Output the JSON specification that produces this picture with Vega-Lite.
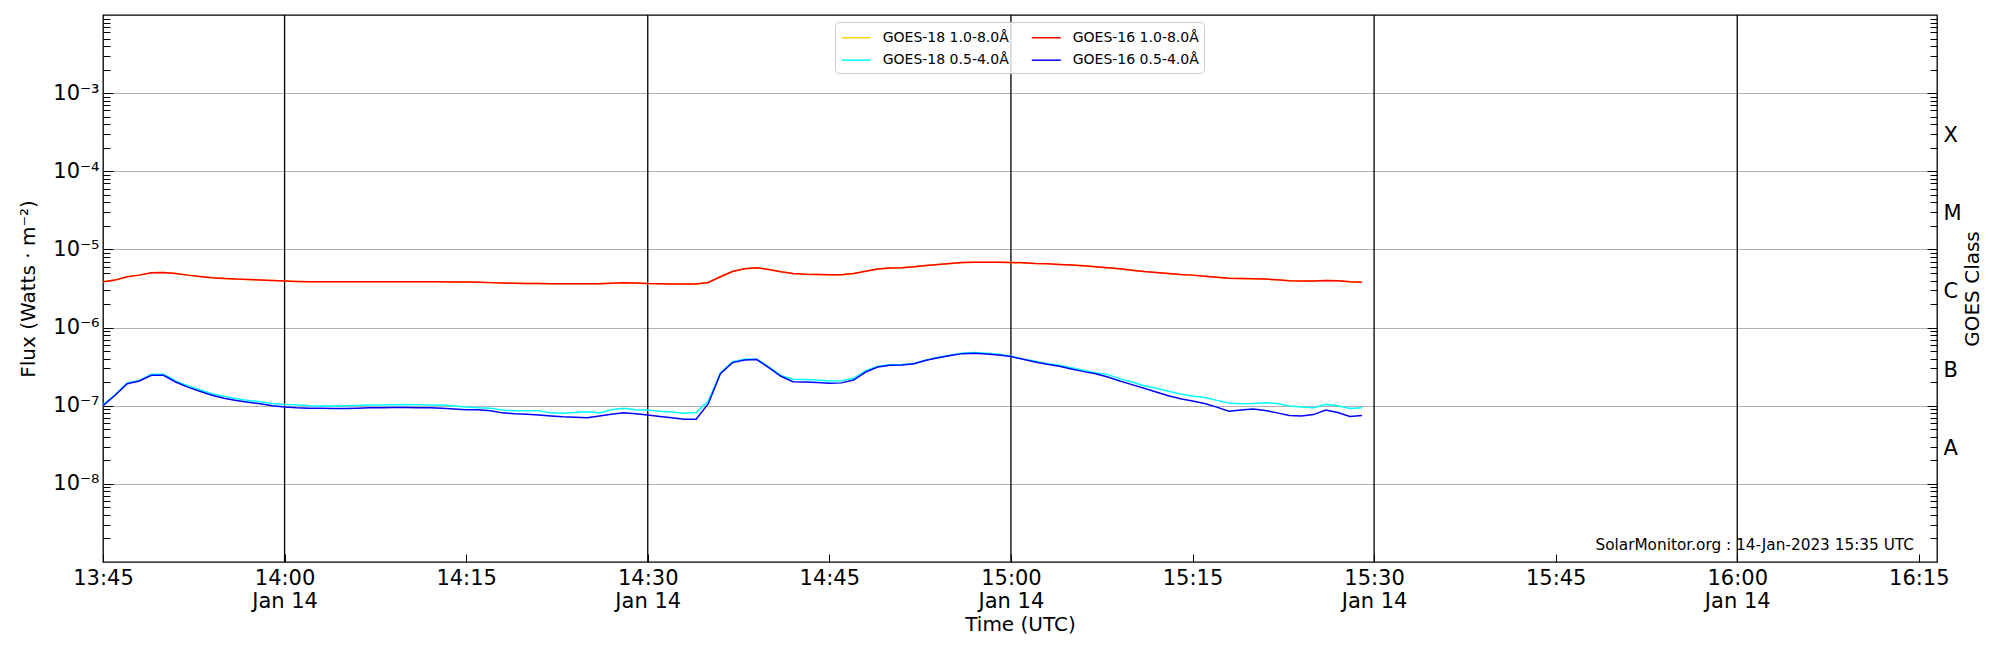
{
  "$schema": "https://vega.github.io/schema/vega-lite/v6.json",
  "width": 1834,
  "height": 547,
  "autosize": {"type": "none"},
  "padding": {"left": 103, "top": 15, "right": 63, "bottom": 88},
  "background": "white",
  "config": {
    "font": "DejaVu Sans",
    "view": {"stroke": "black", "strokeWidth": 1.3},
    "axis": {
      "labelFont": "DejaVu Sans",
      "titleFont": "DejaVu Sans",
      "labelFontSize": 21,
      "titleFontSize": 20,
      "labelColor": "black",
      "titleColor": "black",
      "titleFontWeight": "normal",
      "tickColor": "black",
      "tickWidth": 1,
      "domain": false,
      "grid": false
    }
  },
  "datasets": {
    "goes": [
      {"t": "2023-01-14T13:45:00Z", "g18l": 3.85e-6, "g18s": 1.03e-7, "g16l": 3.85e-6, "g16s": 1.00e-7},
      {"t": "2023-01-14T13:46:00Z", "g18l": 4.05e-6, "g18s": 1.38e-7, "g16l": 4.05e-6, "g16s": 1.36e-7},
      {"t": "2023-01-14T13:47:00Z", "g18l": 4.47e-6, "g18s": 1.95e-7, "g16l": 4.47e-6, "g16s": 1.91e-7},
      {"t": "2023-01-14T13:48:00Z", "g18l": 4.69e-6, "g18s": 2.11e-7, "g16l": 4.69e-6, "g16s": 2.07e-7},
      {"t": "2023-01-14T13:49:00Z", "g18l": 5.02e-6, "g18s": 2.52e-7, "g16l": 5.02e-6, "g16s": 2.45e-7},
      {"t": "2023-01-14T13:50:00Z", "g18l": 5.07e-6, "g18s": 2.52e-7, "g16l": 5.07e-6, "g16s": 2.45e-7},
      {"t": "2023-01-14T13:51:00Z", "g18l": 4.93e-6, "g18s": 2.07e-7, "g16l": 4.93e-6, "g16s": 2.01e-7},
      {"t": "2023-01-14T13:52:00Z", "g18l": 4.69e-6, "g18s": 1.80e-7, "g16l": 4.69e-6, "g16s": 1.73e-7},
      {"t": "2023-01-14T13:53:00Z", "g18l": 4.50e-6, "g18s": 1.60e-7, "g16l": 4.50e-6, "g16s": 1.53e-7},
      {"t": "2023-01-14T13:54:00Z", "g18l": 4.34e-6, "g18s": 1.42e-7, "g16l": 4.34e-6, "g16s": 1.36e-7},
      {"t": "2023-01-14T13:55:00Z", "g18l": 4.25e-6, "g18s": 1.32e-7, "g16l": 4.25e-6, "g16s": 1.25e-7},
      {"t": "2023-01-14T13:56:00Z", "g18l": 4.17e-6, "g18s": 1.23e-7, "g16l": 4.17e-6, "g16s": 1.17e-7},
      {"t": "2023-01-14T13:57:00Z", "g18l": 4.13e-6, "g18s": 1.17e-7, "g16l": 4.13e-6, "g16s": 1.11e-7},
      {"t": "2023-01-14T13:58:00Z", "g18l": 4.05e-6, "g18s": 1.12e-7, "g16l": 4.05e-6, "g16s": 1.06e-7},
      {"t": "2023-01-14T13:59:00Z", "g18l": 4.00e-6, "g18s": 1.07e-7, "g16l": 4.00e-6, "g16s": 1.00e-7},
      {"t": "2023-01-14T14:00:00Z", "g18l": 3.93e-6, "g18s": 1.04e-7, "g16l": 3.93e-6, "g16s": 9.6e-8},
      {"t": "2023-01-14T14:01:00Z", "g18l": 3.89e-6, "g18s": 1.03e-7, "g16l": 3.89e-6, "g16s": 9.4e-8},
      {"t": "2023-01-14T14:02:00Z", "g18l": 3.87e-6, "g18s": 1.00e-7, "g16l": 3.87e-6, "g16s": 9.3e-8},
      {"t": "2023-01-14T14:03:00Z", "g18l": 3.86e-6, "g18s": 9.9e-8, "g16l": 3.86e-6, "g16s": 9.3e-8},
      {"t": "2023-01-14T14:04:00Z", "g18l": 3.85e-6, "g18s": 9.9e-8, "g16l": 3.85e-6, "g16s": 9.2e-8},
      {"t": "2023-01-14T14:05:00Z", "g18l": 3.85e-6, "g18s": 1.00e-7, "g16l": 3.85e-6, "g16s": 9.2e-8},
      {"t": "2023-01-14T14:06:00Z", "g18l": 3.85e-6, "g18s": 1.01e-7, "g16l": 3.85e-6, "g16s": 9.3e-8},
      {"t": "2023-01-14T14:07:00Z", "g18l": 3.85e-6, "g18s": 1.02e-7, "g16l": 3.85e-6, "g16s": 9.4e-8},
      {"t": "2023-01-14T14:08:00Z", "g18l": 3.85e-6, "g18s": 1.02e-7, "g16l": 3.85e-6, "g16s": 9.4e-8},
      {"t": "2023-01-14T14:09:00Z", "g18l": 3.85e-6, "g18s": 1.03e-7, "g16l": 3.85e-6, "g16s": 9.5e-8},
      {"t": "2023-01-14T14:10:00Z", "g18l": 3.86e-6, "g18s": 1.04e-7, "g16l": 3.86e-6, "g16s": 9.5e-8},
      {"t": "2023-01-14T14:11:00Z", "g18l": 3.86e-6, "g18s": 1.03e-7, "g16l": 3.86e-6, "g16s": 9.4e-8},
      {"t": "2023-01-14T14:12:00Z", "g18l": 3.85e-6, "g18s": 1.02e-7, "g16l": 3.85e-6, "g16s": 9.4e-8},
      {"t": "2023-01-14T14:13:00Z", "g18l": 3.85e-6, "g18s": 1.02e-7, "g16l": 3.85e-6, "g16s": 9.3e-8},
      {"t": "2023-01-14T14:14:00Z", "g18l": 3.84e-6, "g18s": 9.9e-8, "g16l": 3.84e-6, "g16s": 9.1e-8},
      {"t": "2023-01-14T14:15:00Z", "g18l": 3.82e-6, "g18s": 9.6e-8, "g16l": 3.82e-6, "g16s": 8.9e-8},
      {"t": "2023-01-14T14:16:00Z", "g18l": 3.79e-6, "g18s": 9.4e-8, "g16l": 3.79e-6, "g16s": 8.9e-8},
      {"t": "2023-01-14T14:17:00Z", "g18l": 3.76e-6, "g18s": 9.3e-8, "g16l": 3.76e-6, "g16s": 8.6e-8},
      {"t": "2023-01-14T14:18:00Z", "g18l": 3.72e-6, "g18s": 8.8e-8, "g16l": 3.72e-6, "g16s": 8.1e-8},
      {"t": "2023-01-14T14:19:00Z", "g18l": 3.69e-6, "g18s": 8.6e-8, "g16l": 3.69e-6, "g16s": 7.9e-8},
      {"t": "2023-01-14T14:20:00Z", "g18l": 3.67e-6, "g18s": 8.6e-8, "g16l": 3.67e-6, "g16s": 7.8e-8},
      {"t": "2023-01-14T14:21:00Z", "g18l": 3.66e-6, "g18s": 8.6e-8, "g16l": 3.66e-6, "g16s": 7.6e-8},
      {"t": "2023-01-14T14:22:00Z", "g18l": 3.65e-6, "g18s": 8.1e-8, "g16l": 3.65e-6, "g16s": 7.4e-8},
      {"t": "2023-01-14T14:23:00Z", "g18l": 3.64e-6, "g18s": 8.0e-8, "g16l": 3.64e-6, "g16s": 7.2e-8},
      {"t": "2023-01-14T14:24:00Z", "g18l": 3.63e-6, "g18s": 8.2e-8, "g16l": 3.63e-6, "g16s": 7.1e-8},
      {"t": "2023-01-14T14:25:00Z", "g18l": 3.63e-6, "g18s": 8.4e-8, "g16l": 3.63e-6, "g16s": 7.0e-8},
      {"t": "2023-01-14T14:26:00Z", "g18l": 3.65e-6, "g18s": 8.1e-8, "g16l": 3.65e-6, "g16s": 7.4e-8},
      {"t": "2023-01-14T14:27:00Z", "g18l": 3.70e-6, "g18s": 8.9e-8, "g16l": 3.70e-6, "g16s": 7.8e-8},
      {"t": "2023-01-14T14:28:00Z", "g18l": 3.74e-6, "g18s": 9.3e-8, "g16l": 3.74e-6, "g16s": 8.1e-8},
      {"t": "2023-01-14T14:29:00Z", "g18l": 3.72e-6, "g18s": 8.9e-8, "g16l": 3.72e-6, "g16s": 7.9e-8},
      {"t": "2023-01-14T14:30:00Z", "g18l": 3.67e-6, "g18s": 8.8e-8, "g16l": 3.67e-6, "g16s": 7.6e-8},
      {"t": "2023-01-14T14:31:00Z", "g18l": 3.65e-6, "g18s": 8.5e-8, "g16l": 3.65e-6, "g16s": 7.3e-8},
      {"t": "2023-01-14T14:32:00Z", "g18l": 3.62e-6, "g18s": 8.3e-8, "g16l": 3.62e-6, "g16s": 7.0e-8},
      {"t": "2023-01-14T14:33:00Z", "g18l": 3.60e-6, "g18s": 8.0e-8, "g16l": 3.60e-6, "g16s": 6.7e-8},
      {"t": "2023-01-14T14:34:00Z", "g18l": 3.60e-6, "g18s": 8.2e-8, "g16l": 3.60e-6, "g16s": 6.7e-8},
      {"t": "2023-01-14T14:35:00Z", "g18l": 3.77e-6, "g18s": 1.15e-7, "g16l": 3.77e-6, "g16s": 1.06e-7},
      {"t": "2023-01-14T14:36:00Z", "g18l": 4.47e-6, "g18s": 2.62e-7, "g16l": 4.47e-6, "g16s": 2.57e-7},
      {"t": "2023-01-14T14:37:00Z", "g18l": 5.22e-6, "g18s": 3.66e-7, "g16l": 5.22e-6, "g16s": 3.56e-7},
      {"t": "2023-01-14T14:38:00Z", "g18l": 5.65e-6, "g18s": 3.92e-7, "g16l": 5.65e-6, "g16s": 3.85e-7},
      {"t": "2023-01-14T14:39:00Z", "g18l": 5.82e-6, "g18s": 3.97e-7, "g16l": 5.82e-6, "g16s": 3.90e-7},
      {"t": "2023-01-14T14:40:00Z", "g18l": 5.55e-6, "g18s": 3.14e-7, "g16l": 5.55e-6, "g16s": 3.07e-7},
      {"t": "2023-01-14T14:41:00Z", "g18l": 5.18e-6, "g18s": 2.44e-7, "g16l": 5.18e-6, "g16s": 2.38e-7},
      {"t": "2023-01-14T14:42:00Z", "g18l": 4.93e-6, "g18s": 2.18e-7, "g16l": 4.93e-6, "g16s": 2.03e-7},
      {"t": "2023-01-14T14:43:00Z", "g18l": 4.83e-6, "g18s": 2.16e-7, "g16l": 4.83e-6, "g16s": 2.01e-7},
      {"t": "2023-01-14T14:44:00Z", "g18l": 4.78e-6, "g18s": 2.14e-7, "g16l": 4.78e-6, "g16s": 1.98e-7},
      {"t": "2023-01-14T14:45:00Z", "g18l": 4.73e-6, "g18s": 2.07e-7, "g16l": 4.73e-6, "g16s": 1.94e-7},
      {"t": "2023-01-14T14:46:00Z", "g18l": 4.73e-6, "g18s": 2.09e-7, "g16l": 4.73e-6, "g16s": 1.96e-7},
      {"t": "2023-01-14T14:47:00Z", "g18l": 4.93e-6, "g18s": 2.24e-7, "g16l": 4.93e-6, "g16s": 2.13e-7},
      {"t": "2023-01-14T14:48:00Z", "g18l": 5.27e-6, "g18s": 2.80e-7, "g16l": 5.27e-6, "g16s": 2.70e-7},
      {"t": "2023-01-14T14:49:00Z", "g18l": 5.60e-6, "g18s": 3.19e-7, "g16l": 5.60e-6, "g16s": 3.13e-7},
      {"t": "2023-01-14T14:50:00Z", "g18l": 5.77e-6, "g18s": 3.35e-7, "g16l": 5.77e-6, "g16s": 3.30e-7},
      {"t": "2023-01-14T14:51:00Z", "g18l": 5.82e-6, "g18s": 3.38e-7, "g16l": 5.82e-6, "g16s": 3.33e-7},
      {"t": "2023-01-14T14:52:00Z", "g18l": 6.00e-6, "g18s": 3.48e-7, "g16l": 6.00e-6, "g16s": 3.45e-7},
      {"t": "2023-01-14T14:53:00Z", "g18l": 6.24e-6, "g18s": 3.84e-7, "g16l": 6.24e-6, "g16s": 3.81e-7},
      {"t": "2023-01-14T14:54:00Z", "g18l": 6.42e-6, "g18s": 4.16e-7, "g16l": 6.42e-6, "g16s": 4.12e-7},
      {"t": "2023-01-14T14:55:00Z", "g18l": 6.61e-6, "g18s": 4.42e-7, "g16l": 6.61e-6, "g16s": 4.38e-7},
      {"t": "2023-01-14T14:56:00Z", "g18l": 6.81e-6, "g18s": 4.73e-7, "g16l": 6.81e-6, "g16s": 4.64e-7},
      {"t": "2023-01-14T14:57:00Z", "g18l": 6.87e-6, "g18s": 4.78e-7, "g16l": 6.87e-6, "g16s": 4.68e-7},
      {"t": "2023-01-14T14:58:00Z", "g18l": 6.87e-6, "g18s": 4.68e-7, "g16l": 6.87e-6, "g16s": 4.60e-7},
      {"t": "2023-01-14T14:59:00Z", "g18l": 6.87e-6, "g18s": 4.55e-7, "g16l": 6.87e-6, "g16s": 4.46e-7},
      {"t": "2023-01-14T15:00:00Z", "g18l": 6.81e-6, "g18s": 4.29e-7, "g16l": 6.81e-6, "g16s": 4.25e-7},
      {"t": "2023-01-14T15:01:00Z", "g18l": 6.74e-6, "g18s": 3.96e-7, "g16l": 6.74e-6, "g16s": 3.93e-7},
      {"t": "2023-01-14T15:02:00Z", "g18l": 6.61e-6, "g18s": 3.70e-7, "g16l": 6.61e-6, "g16s": 3.63e-7},
      {"t": "2023-01-14T15:03:00Z", "g18l": 6.54e-6, "g18s": 3.45e-7, "g16l": 6.54e-6, "g16s": 3.39e-7},
      {"t": "2023-01-14T15:04:00Z", "g18l": 6.42e-6, "g18s": 3.29e-7, "g16l": 6.42e-6, "g16s": 3.19e-7},
      {"t": "2023-01-14T15:05:00Z", "g18l": 6.30e-6, "g18s": 3.07e-7, "g16l": 6.30e-6, "g16s": 2.95e-7},
      {"t": "2023-01-14T15:06:00Z", "g18l": 6.17e-6, "g18s": 2.84e-7, "g16l": 6.17e-6, "g16s": 2.73e-7},
      {"t": "2023-01-14T15:07:00Z", "g18l": 6.00e-6, "g18s": 2.65e-7, "g16l": 6.00e-6, "g16s": 2.57e-7},
      {"t": "2023-01-14T15:08:00Z", "g18l": 5.82e-6, "g18s": 2.50e-7, "g16l": 5.82e-6, "g16s": 2.33e-7},
      {"t": "2023-01-14T15:09:00Z", "g18l": 5.65e-6, "g18s": 2.22e-7, "g16l": 5.65e-6, "g16s": 2.07e-7},
      {"t": "2023-01-14T15:10:00Z", "g18l": 5.43e-6, "g18s": 2.01e-7, "g16l": 5.43e-6, "g16s": 1.86e-7},
      {"t": "2023-01-14T15:11:00Z", "g18l": 5.22e-6, "g18s": 1.80e-7, "g16l": 5.22e-6, "g16s": 1.67e-7},
      {"t": "2023-01-14T15:12:00Z", "g18l": 5.07e-6, "g18s": 1.67e-7, "g16l": 5.07e-6, "g16s": 1.50e-7},
      {"t": "2023-01-14T15:13:00Z", "g18l": 4.93e-6, "g18s": 1.53e-7, "g16l": 4.93e-6, "g16s": 1.34e-7},
      {"t": "2023-01-14T15:14:00Z", "g18l": 4.78e-6, "g18s": 1.41e-7, "g16l": 4.78e-6, "g16s": 1.23e-7},
      {"t": "2023-01-14T15:15:00Z", "g18l": 4.69e-6, "g18s": 1.33e-7, "g16l": 4.69e-6, "g16s": 1.15e-7},
      {"t": "2023-01-14T15:16:00Z", "g18l": 4.55e-6, "g18s": 1.27e-7, "g16l": 4.55e-6, "g16s": 1.07e-7},
      {"t": "2023-01-14T15:17:00Z", "g18l": 4.42e-6, "g18s": 1.17e-7, "g16l": 4.42e-6, "g16s": 9.6e-8},
      {"t": "2023-01-14T15:18:00Z", "g18l": 4.29e-6, "g18s": 1.08e-7, "g16l": 4.29e-6, "g16s": 8.5e-8},
      {"t": "2023-01-14T15:19:00Z", "g18l": 4.25e-6, "g18s": 1.06e-7, "g16l": 4.25e-6, "g16s": 8.8e-8},
      {"t": "2023-01-14T15:20:00Z", "g18l": 4.21e-6, "g18s": 1.07e-7, "g16l": 4.21e-6, "g16s": 9.1e-8},
      {"t": "2023-01-14T15:21:00Z", "g18l": 4.17e-6, "g18s": 1.09e-7, "g16l": 4.17e-6, "g16s": 8.7e-8},
      {"t": "2023-01-14T15:22:00Z", "g18l": 4.09e-6, "g18s": 1.07e-7, "g16l": 4.09e-6, "g16s": 8.1e-8},
      {"t": "2023-01-14T15:23:00Z", "g18l": 3.97e-6, "g18s": 9.9e-8, "g16l": 3.97e-6, "g16s": 7.5e-8},
      {"t": "2023-01-14T15:24:00Z", "g18l": 3.93e-6, "g18s": 9.6e-8, "g16l": 3.93e-6, "g16s": 7.4e-8},
      {"t": "2023-01-14T15:25:00Z", "g18l": 3.93e-6, "g18s": 9.4e-8, "g16l": 3.93e-6, "g16s": 7.7e-8},
      {"t": "2023-01-14T15:26:00Z", "g18l": 4.00e-6, "g18s": 1.04e-7, "g16l": 4.00e-6, "g16s": 8.8e-8},
      {"t": "2023-01-14T15:27:00Z", "g18l": 3.97e-6, "g18s": 1.00e-7, "g16l": 3.97e-6, "g16s": 8.2e-8},
      {"t": "2023-01-14T15:28:00Z", "g18l": 3.85e-6, "g18s": 9.2e-8, "g16l": 3.85e-6, "g16s": 7.3e-8},
      {"t": "2023-01-14T15:29:00Z", "g18l": 3.81e-6, "g18s": 9.4e-8, "g16l": 3.81e-6, "g16s": 7.5e-8}
    ],
    "vlines": [
      {"t": "2023-01-14T14:00:00Z"},
      {"t": "2023-01-14T14:30:00Z"},
      {"t": "2023-01-14T15:00:00Z"},
      {"t": "2023-01-14T15:30:00Z"},
      {"t": "2023-01-14T16:00:00Z"}
    ],
    "note": [
      {"t": "2023-01-14T16:14:36Z", "flux": 1.65e-9, "label": "SolarMonitor.org : 14-Jan-2023 15:35 UTC"}
    ]
  },
  "encoding": {
    "x": {
      "field": "t",
      "type": "temporal",
      "scale": {
        "type": "utc",
        "domain": [
          {"year": 2023, "month": 1, "date": 14, "hours": 13, "minutes": 45, "utc": true},
          {"year": 2023, "month": 1, "date": 14, "hours": 16, "minutes": 16, "seconds": 30, "utc": true}
        ]
      },
      "axis": {
        "values": [
          {"year": 2023, "month": 1, "date": 14, "hours": 13, "minutes": 45, "utc": true},
          {"year": 2023, "month": 1, "date": 14, "hours": 14, "minutes": 0, "utc": true},
          {"year": 2023, "month": 1, "date": 14, "hours": 14, "minutes": 15, "utc": true},
          {"year": 2023, "month": 1, "date": 14, "hours": 14, "minutes": 30, "utc": true},
          {"year": 2023, "month": 1, "date": 14, "hours": 14, "minutes": 45, "utc": true},
          {"year": 2023, "month": 1, "date": 14, "hours": 15, "minutes": 0, "utc": true},
          {"year": 2023, "month": 1, "date": 14, "hours": 15, "minutes": 15, "utc": true},
          {"year": 2023, "month": 1, "date": 14, "hours": 15, "minutes": 30, "utc": true},
          {"year": 2023, "month": 1, "date": 14, "hours": 15, "minutes": 45, "utc": true},
          {"year": 2023, "month": 1, "date": 14, "hours": 16, "minutes": 0, "utc": true},
          {"year": 2023, "month": 1, "date": 14, "hours": 16, "minutes": 15, "utc": true}
        ],
        "labelExpr": "[utcFormat(datum.value, '%H:%M'), utcminutes(datum.value) % 30 == 0 ? utcFormat(datum.value, '%b %d') : '']",
        "labelFlush": false,
        "labelOverlap": false,
        "labelLineHeight": 23,
        "tickSize": -8,
        "labelPadding": 13,
        "title": "Time (UTC)",
        "titlePadding": 3
      }
    }
  },
  "layer": [
    {
      "data": {"name": "vlines"},
      "mark": {"type": "rule", "color": "black", "strokeWidth": 1.3},
      "encoding": {}
    },
    {
      "data": {"name": "goes"},
      "mark": {"type": "line", "strokeWidth": 1.5, "clip": true},
      "encoding": {
        "y": {
          "field": "g18l",
          "type": "quantitative",
          "scale": {"type": "log", "domain": [1e-9, 1e-2]},
          "axis": {
            "orient": "left",
            "values": [1e-8, 1e-7, 1e-6, 1e-5, 1e-4, 1e-3],
            "labelExpr": "'10⁻' + ['⁰','¹','²','³','⁴','⁵','⁶','⁷','⁸','⁹'][round(-log(datum.value) / LN10)]",
            "grid": true,
            "gridColor": "#b0b0b0",
            "gridWidth": 1.2,
            "tickSize": -10,
            "labelPadding": 14,
            "title": "Flux (Watts · m⁻²)",
            "titleAngle": 270,
            "titleX": -75,
            "titleY": 273.5,
            "titleAlign": "center",
            "titleBaseline": "middle"
          }
        },
        "color": {
          "datum": "GOES-18 1.0-8.0Å",
          "scale": {
            "domain": ["GOES-18 1.0-8.0Å", "GOES-18 0.5-4.0Å", "GOES-16 1.0-8.0Å", "GOES-16 0.5-4.0Å"],
            "range": ["#ffd700", "#00ffff", "#ff0000", "#0000ff"]
          },
          "legend": {
            "orient": "none",
            "legendX": 732,
            "legendY": 7,
            "columns": 2,
            "title": null,
            "symbolType": "M-0.9,0H2.1",
            "symbolSize": 373,
            "symbolStrokeWidth": 1.5,
            "symbolFillColor": "transparent",
            "labelFont": "DejaVu Sans",
            "labelFontSize": 14,
            "labelColor": "black",
            "labelOffset": 21.7,
            "labelLimit": 0,
            "columnPadding": 19,
            "rowPadding": 4.7,
            "padding": 5,
            "fillColor": "rgba(255,255,255,0.8)",
            "strokeColor": "#cccccc",
            "cornerRadius": 4
          }
        }
      }
    },
    {
      "data": {"name": "goes"},
      "mark": {"type": "line", "strokeWidth": 1.5, "clip": true},
      "encoding": {
        "y": {
          "field": "g18s",
          "type": "quantitative",
          "scale": {"type": "log", "domain": [1e-9, 1e-2]},
          "axis": {
            "orient": "left",
            "values": [2e-9, 3e-9, 4e-9, 5e-9, 6e-9, 7e-9, 8e-9, 9e-9,
                       2e-8, 3e-8, 4e-8, 5e-8, 6e-8, 7e-8, 8e-8, 9e-8,
                       2e-7, 3e-7, 4e-7, 5e-7, 6e-7, 7e-7, 8e-7, 9e-7,
                       2e-6, 3e-6, 4e-6, 5e-6, 6e-6, 7e-6, 8e-6, 9e-6,
                       2e-5, 3e-5, 4e-5, 5e-5, 6e-5, 7e-5, 8e-5, 9e-5,
                       2e-4, 3e-4, 4e-4, 5e-4, 6e-4, 7e-4, 8e-4, 9e-4,
                       2e-3, 3e-3, 4e-3, 5e-3, 6e-3, 7e-3, 8e-3, 9e-3],
            "labels": false,
            "tickSize": -7,
            "title": null
          }
        },
        "color": {"datum": "GOES-18 0.5-4.0Å"}
      }
    },
    {
      "data": {"name": "goes"},
      "mark": {"type": "line", "strokeWidth": 1.5, "clip": true},
      "encoding": {
        "y": {
          "field": "g16l",
          "type": "quantitative",
          "scale": {"type": "log", "domain": [1e-9, 1e-2]},
          "axis": {
            "orient": "right",
            "values": [1e-8, 1e-7, 1e-6, 1e-5, 1e-4, 1e-3],
            "labels": false,
            "tickSize": -10,
            "title": null
          }
        },
        "color": {"datum": "GOES-16 1.0-8.0Å"}
      }
    },
    {
      "data": {"name": "goes"},
      "mark": {"type": "line", "strokeWidth": 1.5, "clip": true},
      "encoding": {
        "y": {
          "field": "g16s",
          "type": "quantitative",
          "scale": {"type": "log", "domain": [1e-9, 1e-2]},
          "axis": {
            "orient": "right",
            "values": [2e-9, 3e-9, 4e-9, 5e-9, 6e-9, 7e-9, 8e-9, 9e-9,
                       2e-8, 3e-8, 4e-8, 5e-8, 6e-8, 7e-8, 8e-8, 9e-8,
                       2e-7, 3e-7, 4e-7, 5e-7, 6e-7, 7e-7, 8e-7, 9e-7,
                       2e-6, 3e-6, 4e-6, 5e-6, 6e-6, 7e-6, 8e-6, 9e-6,
                       2e-5, 3e-5, 4e-5, 5e-5, 6e-5, 7e-5, 8e-5, 9e-5,
                       2e-4, 3e-4, 4e-4, 5e-4, 6e-4, 7e-4, 8e-4, 9e-4,
                       2e-3, 3e-3, 4e-3, 5e-3, 6e-3, 7e-3, 8e-3, 9e-3],
            "labels": false,
            "tickSize": -7,
            "title": null
          }
        },
        "color": {"datum": "GOES-16 0.5-4.0Å"}
      }
    },
    {
      "data": {"name": "note"},
      "mark": {"type": "text", "align": "right", "baseline": "middle", "font": "DejaVu Sans", "fontSize": 15.3, "color": "black"},
      "encoding": {
        "y": {
          "field": "flux",
          "type": "quantitative",
          "scale": {"type": "log", "domain": [1e-9, 1e-2]},
          "axis": {
            "orient": "right",
            "values": [3.1623e-8, 3.1623e-7, 3.1623e-6, 3.1623e-5, 3.1623e-4],
            "labelExpr": "['A','B','C','M','X'][round(log(datum.value) / LN10 + 7.5)]",
            "ticks": false,
            "tickSize": 0,
            "labelPadding": 6,
            "labelOffset": 3.5,
            "title": "GOES Class",
            "titleAngle": 270,
            "titleX": 35,
            "titleY": 273.5,
            "titleAlign": "center",
            "titleBaseline": "middle"
          }
        },
        "text": {"field": "label"}
      }
    }
  ],
  "resolve": {"axis": {"y": "independent"}}
}
